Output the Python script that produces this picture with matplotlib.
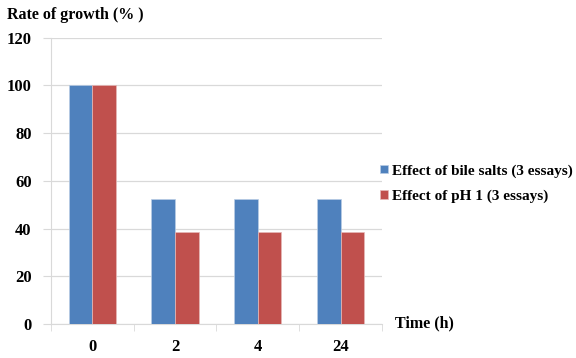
import numpy as np
from matplotlib import pyplot as plt

times = ["0", "2", "4", "24"]
bile_salts = [100, 52.5, 52.5, 52.5]
ph1 = [100, 38.4, 38.4, 38.4]
series_names = ["Effect of bile salts (3 essays)", "Effect of pH 1 (3 essays)"]
y_ticks = [0, 20, 40, 60, 80, 100, 120]

BLUE = "#4F81BD"
RED = "#C0504D"
GRID = "#D9D9D9"

plt.rcParams["font.family"] = ["Liberation Serif", "DejaVu Serif"]
plt.rcParams["font.weight"] = "bold"

fig = plt.figure(figsize=(5.76, 3.58), dpi=100)
ax = fig.add_axes([0.0885, 0.095, 0.5745, 0.80])

x = np.arange(len(times))
w = 0.286
ax.bar(x - w / 2, bile_salts, w, color=BLUE, edgecolor="#B9CDE5", linewidth=0.5,
       label=series_names[0], zorder=3)
ax.bar(x + w / 2, ph1, w, color=RED, edgecolor="#E6B9B8", linewidth=0.5,
       label=series_names[1], zorder=3)

ax.set_xlim(-0.5, len(times) - 0.5)
ax.set_ylim(0, 120)
ax.set_yticks(y_ticks)
ax.set_yticklabels([str(v) for v in y_ticks], fontsize=12, fontweight="bold")
ax.set_xticks(x)
ax.set_xticklabels(times, fontsize=12, fontweight="bold")
ax.tick_params(axis="x", length=0, pad=11)
ax.tick_params(axis="y", length=6, color=GRID, pad=8)
# category boundary ticks on the x axis
ax.set_xticks(np.arange(len(times) + 1) - 0.5, minor=True)
ax.tick_params(axis="x", which="minor", length=5, color=GRID)

ax.yaxis.grid(True, color=GRID, lw=0.9, zorder=0)
ax.set_axisbelow(True)
for side in ["top", "right"]:
    ax.spines[side].set_visible(False)
for side in ["left", "bottom"]:
    ax.spines[side].set_color(GRID)

fig.text(0.012, 0.958, "Rate of growth (% )", fontsize=11.5, fontweight="bold",
         va="center", ha="left")
fig.text(0.686, 0.098, "Time (h)", fontsize=11.5, fontweight="bold",
         va="center", ha="left")

ax.legend(loc="center left", bbox_to_anchor=(0.995, 0.49), frameon=False,
          borderaxespad=0, borderpad=0,
          handlelength=0.5, handleheight=0.5,
          handletextpad=0.3, labelspacing=0.8,
          prop={"weight": "bold", "size": 11})

fig.savefig("out.png", facecolor="white")
